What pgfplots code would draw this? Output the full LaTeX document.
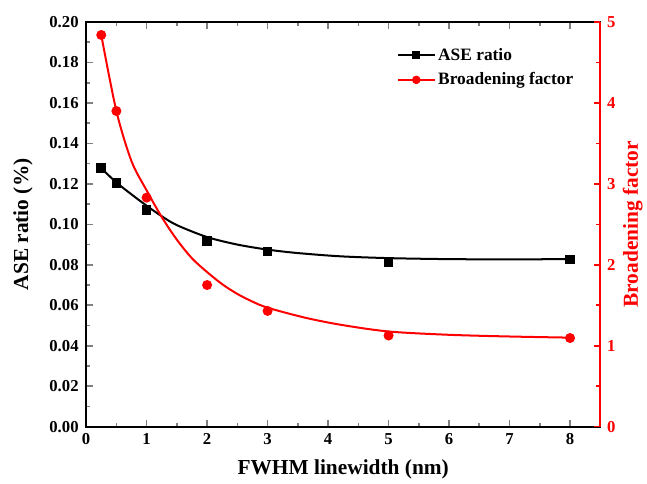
\documentclass[border=0pt]{standalone}
\usepackage{pgfplots}
\pgfplotsset{compat=1.18}
\usepackage{fontspec}
\setmainfont{Liberation Serif}
\definecolor{myred}{RGB}{255,0,0}
\begin{document}
\begin{tikzpicture}
\pgfplotsset{
  every axis/.append style={
    width=385pt, height=303pt, scale only axis,
    xmin=0, xmax=8.5,
    line width=1.6pt,
    major tick length=5pt, minor tick length=3pt,
    tick style={line width=1.2pt},
    /pgf/number format/assume math mode=true,
    tick label style={font=\fontsize{12.5}{14}\selectfont\bfseries},
    label style={font=\fontsize{16}{18}\selectfont\bfseries},
  }
}
\begin{axis}[
  ymin=0, ymax=0.2,
  xtick={0,1,...,8}, minor x tick num=1,
  ytick={0,0.02,...,0.201}, minor y tick num=1,
  ytick pos=left, xtick pos=both,
  yticklabel style={xshift=-1.5pt, /pgf/number format/.cd, fixed, fixed zerofill, precision=2},
  xticklabel style={yshift=-1pt},
  xlabel={FWHM linewidth (nm)},
  ylabel={ASE ratio (\%)},
  xlabel style={yshift=-4pt},
  ylabel style={yshift=5pt},
]
\addplot[black, line width=1.5pt, smooth, tension=0.5] coordinates {
(0.25,0.1277) (0.5,0.1207) (0.75,0.1148) (1,0.1092) (1.25,0.1040) (1.5,0.0996)
(2,0.0937) (2.5,0.0900) (3,0.0875) (3.5,0.0858) (4.2,0.0842) (5,0.0833)
(6,0.0828) (7,0.0827) (8,0.0828)};
\addplot[black, only marks, mark=square*, mark size=2.8pt] coordinates {
(0.25,0.1277) (0.5,0.1203) (1,0.1070) (2,0.0917) (3,0.0865) (5,0.0815) (8,0.0826)};
\end{axis}
\begin{axis}[
  ymin=0, ymax=5,
  axis x line=none,
  axis y line*=right,
  ytick={0,1,...,5}, minor y tick num=1,
  y axis line style={myred},
  ytick style={myred, line width=1.2pt},
  yticklabel style={myred, xshift=1pt},
  ylabel={Broadening factor},
  ylabel style={myred, yshift=2pt},
  legend image code/.code={\draw[mark repeat=2, mark phase=2, #1] plot coordinates {(0cm,0cm) (0.48cm,0cm) (0.96cm,0cm)};},
  legend style={at={(0.955,0.945)}, anchor=north east, draw=none, fill=none,
    inner sep=0pt,
    font=\fontsize{13}{15}\selectfont\bfseries, row sep=4pt,
    /tikz/every even column/.append style={column sep=2pt}},
  legend cell align=left,
]
\addlegendimage{black, line width=1.5pt, mark=square*, mark size=2.2pt}
\addlegendentry{ASE ratio}
\addlegendimage{myred, line width=1.5pt, mark=*, mark size=2.4pt}
\addlegendentry{Broadening factor}
\addplot[myred, line width=1.5pt, smooth, tension=0.5, forget plot] coordinates {
(0.25,4.84) (0.5,3.90) (0.75,3.28) (1,2.92) (1.25,2.59) (1.5,2.31) (1.75,2.08)
(2,1.91) (2.25,1.76) (2.5,1.64) (2.75,1.545) (3,1.47) (3.6,1.35) (4.2,1.26)
(5,1.176) (6,1.135) (7,1.114) (8,1.10)};
\addplot[myred, only marks, mark=*, mark size=2.9pt, forget plot] coordinates {
(0.25,4.84) (0.5,3.90) (1,2.83) (2,1.75) (3,1.43) (5,1.126) (8,1.095)};
\end{axis}
\path ([yshift=16.5pt]current axis.north) ([xshift=-64.5pt]current axis.west)
  ([xshift=35pt]current axis.east) ([yshift=-40.5pt]current axis.south);
\end{tikzpicture}
\end{document}
